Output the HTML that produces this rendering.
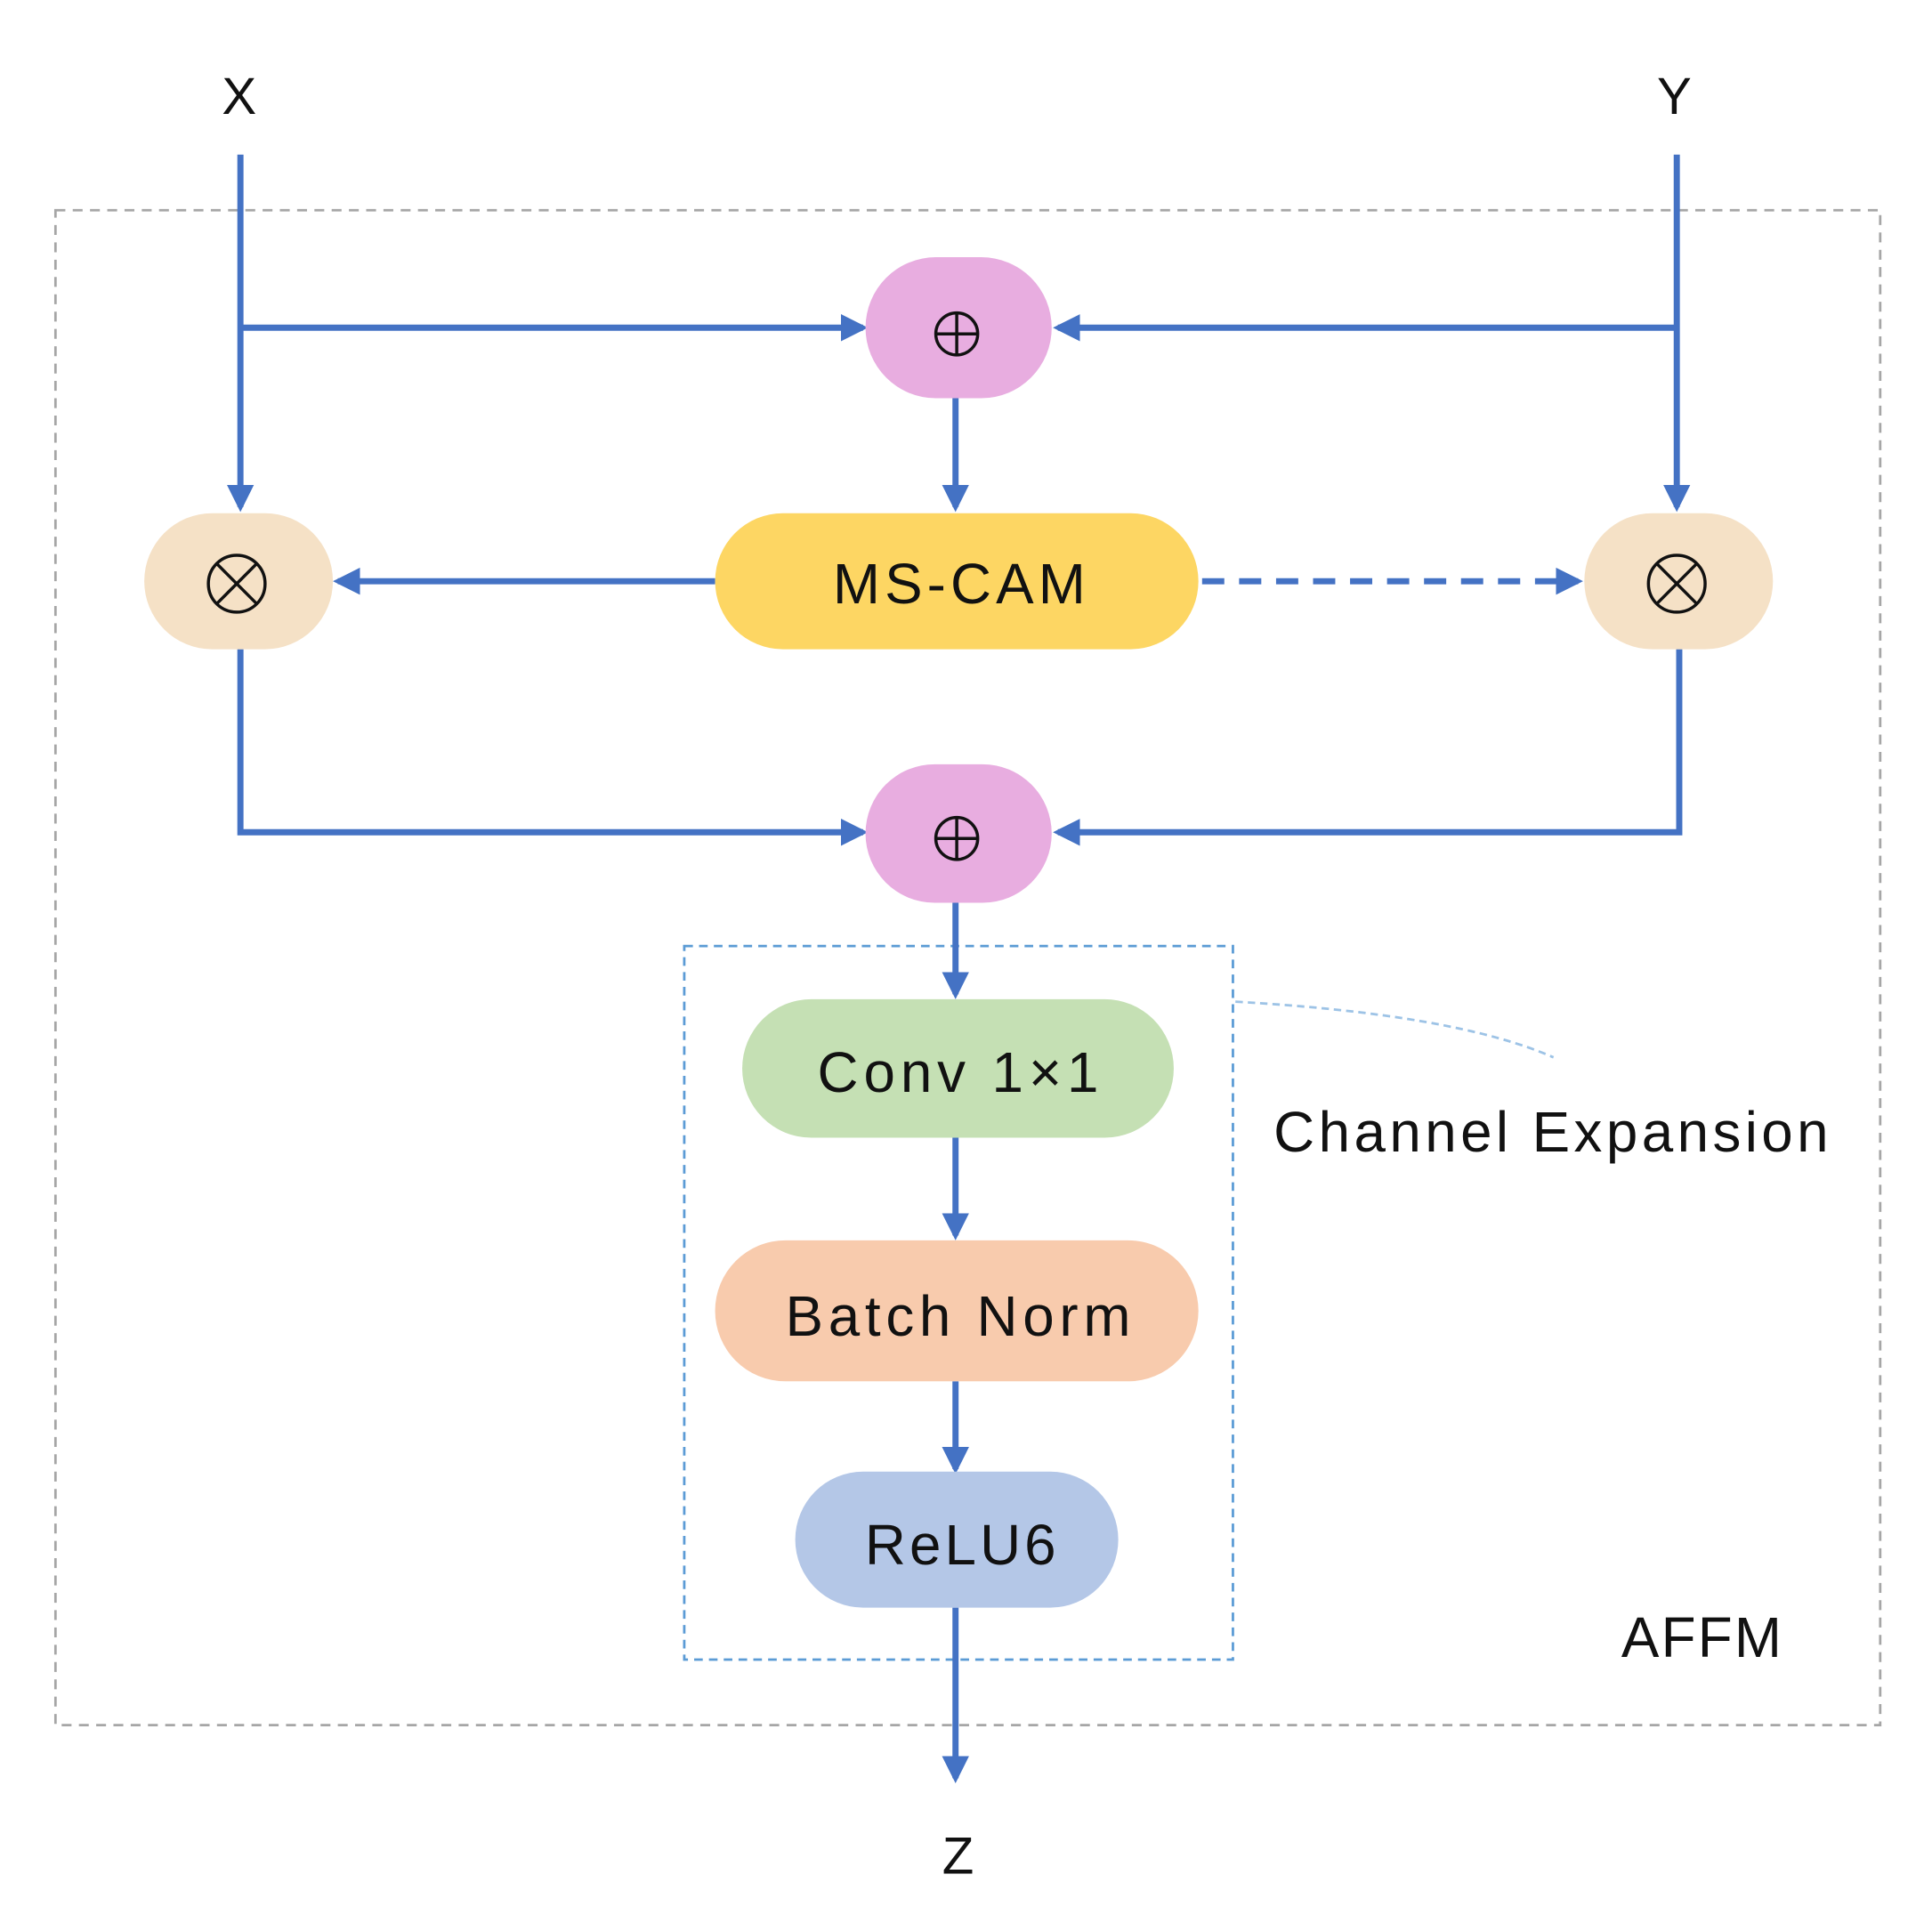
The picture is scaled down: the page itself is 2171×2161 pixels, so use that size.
<!DOCTYPE html>
<html><head><meta charset="utf-8"><style>html,body{margin:0;padding:0;background:#fff}svg{display:block}</style></head>
<body>
<svg width="2171" height="2161" viewBox="0 0 1567 1555" preserveAspectRatio="none" xmlns="http://www.w3.org/2000/svg" font-family="Liberation Sans, DejaVu Sans, sans-serif">
<defs><marker id="a" markerWidth="4.4" markerHeight="4.4" refX="3.6" refY="2.2" orient="auto" markerUnits="strokeWidth"><path d="M0,0 L4.4,2.2 L0,4.4 z" fill="#4472c4"/></marker></defs>
<rect x="45" y="170" width="1480" height="1225" fill="none" stroke="#a6a6a6" stroke-width="2" stroke-dasharray="8,6"/>
<rect x="555" y="765" width="445" height="577" fill="none" stroke="#5b9bd5" stroke-width="2" stroke-dasharray="7,5"/>
<path d="M1002,810 Q1180,820 1260,855" fill="none" stroke="#9dc3e6" stroke-width="2" stroke-dasharray="6,4"/>
<g stroke="#4472c4" stroke-width="5" fill="none">
<path d="M195,125 V410" marker-end="url(#a)"/>
<path d="M195,265 H700" marker-end="url(#a)"/>
<path d="M1360,125 V410" marker-end="url(#a)"/>
<path d="M1360,265 H858" marker-end="url(#a)"/>
<path d="M775,322 V410" marker-end="url(#a)"/>
<path d="M580,470 H274" marker-end="url(#a)"/>
<path d="M975,470 H1280" stroke-dasharray="18,12" marker-end="url(#a)"/>
<path d="M195,525 V673 H700" marker-end="url(#a)"/>
<path d="M1362,525 V673 H858" marker-end="url(#a)"/>
<path d="M775,730 V804" marker-end="url(#a)"/>
<path d="M775,920 V999" marker-end="url(#a)"/>
<path d="M775,1117 V1188" marker-end="url(#a)"/>
<path d="M775,1300 V1438" marker-end="url(#a)"/>
</g>
<rect x="702" y="208" width="151" height="114" rx="57" fill="#e8ade0"/>
<rect x="702" y="618" width="151" height="112" rx="56" fill="#e8ade0"/>
<rect x="580" y="415" width="392" height="110" rx="55" fill="#fdd663"/>
<rect x="117" y="415" width="153" height="110" rx="55" fill="#f5e1c6"/>
<rect x="1285" y="415" width="153" height="110" rx="55" fill="#f5e1c6"/>
<rect x="602" y="808" width="350" height="112" rx="56" fill="#c5e0b4"/>
<rect x="580" y="1003" width="392" height="114" rx="57" fill="#f8cbad"/>
<rect x="645" y="1190" width="262" height="110" rx="55" fill="#b4c7e7"/>
<g stroke="#111" stroke-width="2.5" fill="none">
<circle cx="776" cy="270" r="17"/><path d="M759,270 H793 M776,253 V287"/>
<circle cx="776" cy="678" r="17"/><path d="M759,678 H793 M776,661 V695"/>
<circle cx="192" cy="472" r="23"/><path d="M176,456 L208,488 M208,456 L176,488"/>
<circle cx="1360" cy="472" r="23"/><path d="M1344,456 L1376,488 M1376,456 L1344,488"/>
</g>
<g fill="#111" font-size="46" text-anchor="middle">
<text x="194" y="92" font-size="42">X</text>
<text x="1358" y="92" font-size="42">Y</text>
<text x="777" y="1515" font-size="42">Z</text>
<text x="778" y="488" textLength="205">MS-CAM</text>
<text x="777" y="883" textLength="228">Conv 1×1</text>
<text x="777" y="1080" textLength="280">Batch Norm</text>
<text x="779" y="1265" textLength="155">ReLU6</text>
<text x="1258" y="931" textLength="450">Channel Expansion</text>
<text x="1380" y="1340" textLength="130">AFFM</text>
</g>
</svg>
</body></html>
